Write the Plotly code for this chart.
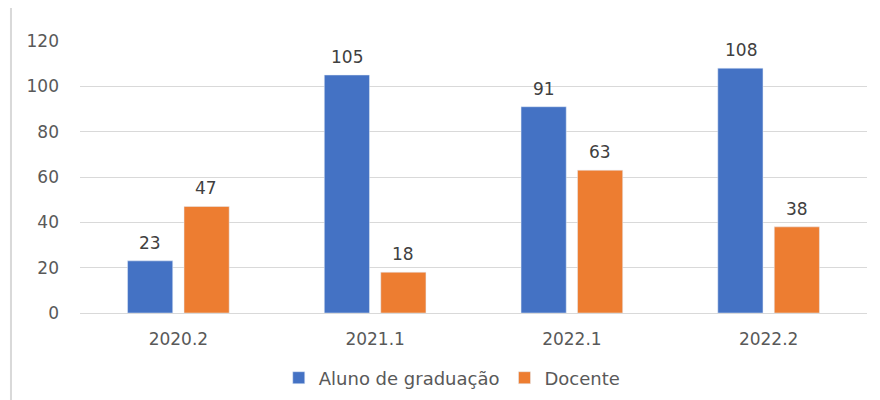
import plotly.graph_objects as go

categories = ["2020.2", "2021.1", "2022.1", "2022.2"]
aluno = [23, 105, 91, 108]
docente = [47, 18, 63, 38]
y_ticks = [0, 20, 40, 60, 80, 100, 120]

FONT = "DejaVu Sans"
fig = go.Figure()
fig.add_trace(go.Bar(x=categories, y=aluno, name="Aluno de graduação",
                     marker_color="#4472C4"))
fig.add_trace(go.Bar(x=categories, y=docente, name="Docente",
                     marker_color="#ED7D31"))

annotations = []
for series, shift in ((aluno, -28), (docente, 28)):
    for i, v in enumerate(series):
        annotations.append(dict(x=i, y=v, text=str(v), showarrow=False,
                                xshift=shift, yshift=6, yanchor="bottom",
                                font=dict(size=17, color="#404040", family=FONT)))

fig.update_layout(
    width=880, height=400,
    margin=dict(l=72, r=21, t=33, b=95, autoexpand=False),
    plot_bgcolor="white", paper_bgcolor="white",
    barmode="group", bargap=0.426, bargroupgap=0.2,
    font=dict(family=FONT, color="#595959", size=17),
    showlegend=True,
    legend=dict(orientation="h", x=0.473, xanchor="center", y=-0.239, yanchor="middle",
                font=dict(size=18, color="#595959"), itemwidth=30, traceorder="normal"),
    xaxis=dict(type="category", categoryorder="array", categoryarray=categories,
               range=[-0.5, len(categories) - 0.5],
               showgrid=False, showline=False, ticks="", ticklabelstandoff=14,
               automargin=False, tickfont=dict(size=17, color="#595959")),
    yaxis=dict(range=[0, 120], tickvals=y_ticks, showgrid=True, gridcolor="#D9D9D9",
               gridwidth=1, zeroline=True, zerolinecolor="#D9D9D9", zerolinewidth=1,
               showline=False, ticks="", ticklabelstandoff=20, automargin=False,
               tickfont=dict(size=17, color="#595959")),
    annotations=annotations,
    shapes=[dict(type="line", xref="paper", yref="paper", x0=-0.0877, x1=-0.0877,
                 y0=-0.40, y1=1.16, line=dict(color="#D9D9D9", width=2))],
)

fig.write_html("out.html")
